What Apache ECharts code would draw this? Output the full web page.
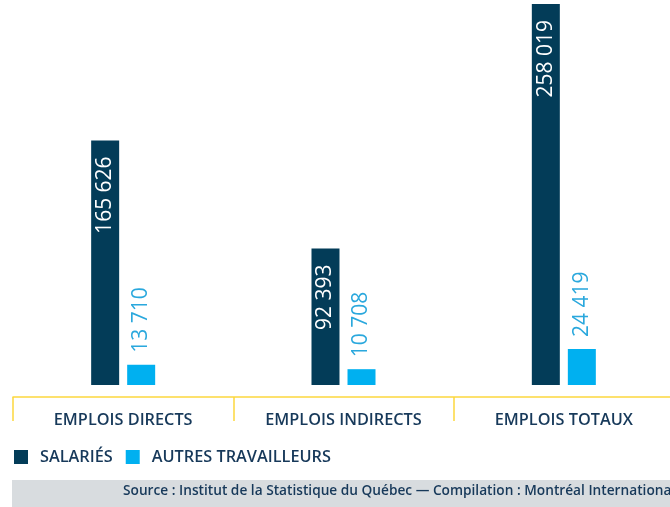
<!DOCTYPE html>
<html><head><meta charset="utf-8">
<script src="https://cdn.jsdelivr.net/npm/echarts@6/dist/echarts.min.js"></script>
<style>html,body{margin:0;padding:0;background:#fff}#c{width:670px;height:507px}</style>
</head><body><div id="c"></div>
<script>
const categories = ['EMPLOIS DIRECTS', 'EMPLOIS INDIRECTS', 'EMPLOIS TOTAUX'];
const seriesNames = ['SALARIÉS', 'AUTRES TRAVAILLEURS'];
const salaries = [165626, 92393, 258019];
const autres = [13710, 10708, 24419];
const sourceText = 'Source : Institut de la Statistique du Québec — Compilation : Montréal International';

const NAVY = '#033c58', BLUE = '#00b0f0', TEXT = '#17395a', FONT = '"Open Sans", sans-serif';
const fmt = v => String(v).replace(/\B(?=(\d{3})+(?!\d))/g, ' ');

const chart = echarts.init(document.getElementById('c'), null, {renderer: 'canvas'});
chart.setOption({
  animation: false,
  grid: {left: 13, right: -4, top: 1, bottom: 110, containLabel: false, outerBoundsMode: 'none'},
  legend: {
    left: 9, top: 444, itemWidth: 14, itemHeight: 14, itemGap: 13, icon: 'rect',
    textStyle: {color: TEXT, fontFamily: FONT, fontSize: 16.3, fontWeight: 600, padding: [0, 0, 0, 7]},
    data: seriesNames
  },
  xAxis: {
    type: 'category', data: categories,
    axisLine: {onZero: false, lineStyle: {color: '#fdd73e', width: 1.5}},
    axisTick: {show: true, length: 24, lineStyle: {color: '#fdd73e', width: 1.5}},
    axisLabel: {color: TEXT, fontFamily: FONT, fontSize: 16.3, fontWeight: 600, margin: 15}
  },
  yAxis: {type: 'value', min: -8125, max: 260000, show: false, splitLine: {show: false}},
  series: [
    {
      name: seriesNames[0], type: 'bar', data: salaries, barWidth: 28, barGap: '28.6%',
      itemStyle: {color: NAVY},
      label: {show: true, position: 'insideTop', rotate: 90, align: 'right', verticalAlign: 'middle',
        distance: 16, color: '#fff', fontFamily: FONT, fontSize: 21, formatter: p => fmt(p.value)}
    },
    {
      name: seriesNames[1], type: 'bar', data: autres, barWidth: 28,
      itemStyle: {color: BLUE},
      label: {show: true, position: 'top', rotate: 90, align: 'left', verticalAlign: 'middle',
        distance: 12, color: '#2aa8dd', fontFamily: FONT, fontSize: 21, formatter: p => fmt(p.value)}
    }
  ],
  graphic: [
    {type: 'rect', left: 12, top: 480, shape: {width: 660, height: 27}, style: {fill: '#d8dcdf'}, silent: true},
    {type: 'text', left: 123, top: 484, style: {text: sourceText, fill: TEXT, font: '600 13.7px "Open Sans", sans-serif'}}
  ]
});
</script></body></html>
